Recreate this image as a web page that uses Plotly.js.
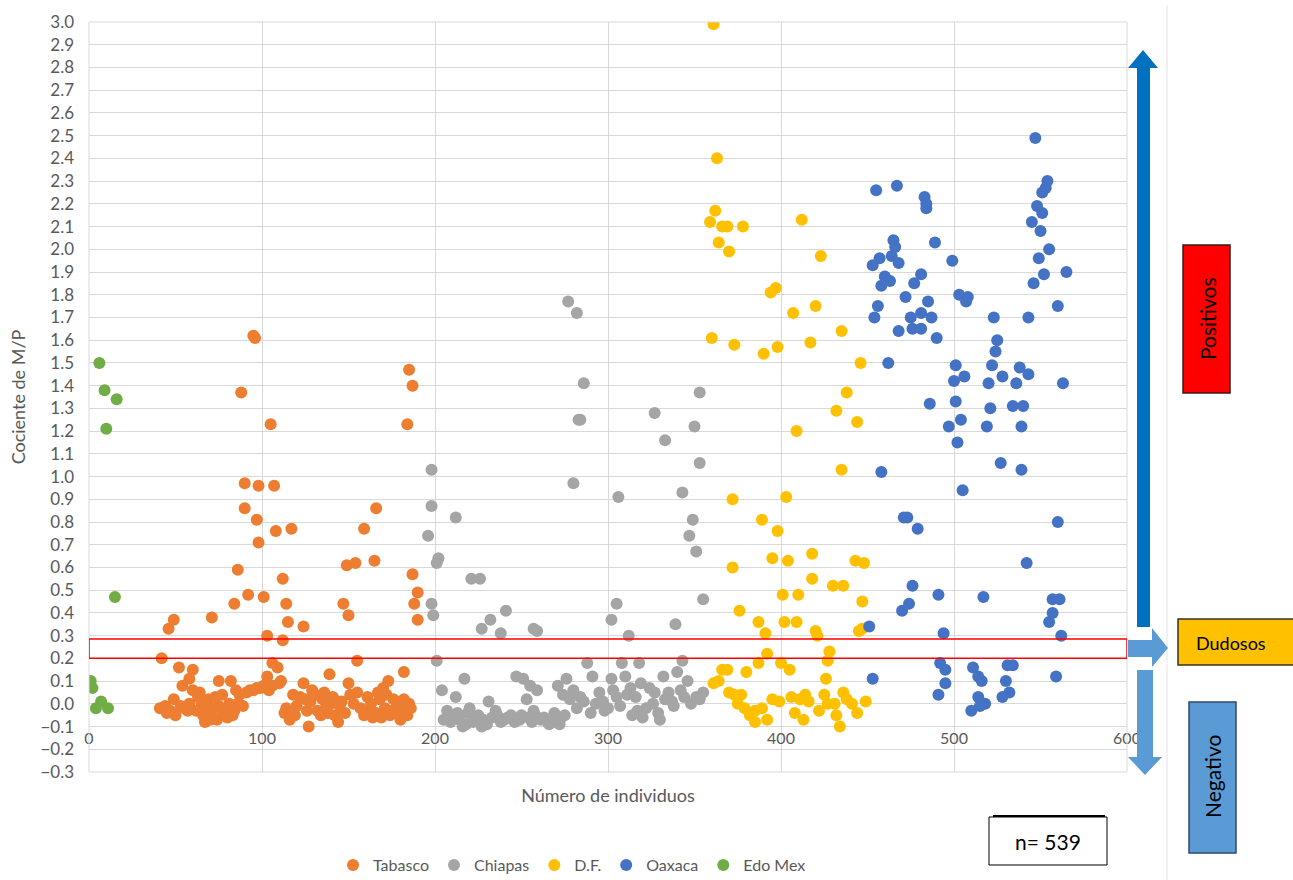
<!DOCTYPE html>
<html>
<head>
<meta charset="utf-8">
<script src="https://cdn.plot.ly/plotly-3.0.1.min.js"></script>
<style>html,body{margin:0;padding:0;background:#fff;}#chart{width:1293px;height:880px;}</style>
</head>
<body>
<div id="chart"></div>
<script>
// ---------- DATA ----------
const seriesNames = ["Tabasco", "Chiapas", "D.F.", "Oaxaca", "Edo Mex"];

const tabascoX = [95,96,88,105,185,187,184,90,98,107,90,97,108,117,98,166,159,149,154,165,86,112,187,190,188,190,92,101,114,84,147,150,115,124,71,49,46,103,112,42,155,52,60,106,109,182,139,75,82,103,111,124,150,173,
41,45,44,47,49,53,54,57,58,60,64,65,67,68,70,72,75,76,80,80,83,86,87,91,95,99,106,113,116,118,120,125,127,129,132,135,138,140,144,145,153,155,162,164,167,170,175,178,180,183,
50,55,58,62,63,66,69,71,73,74,77,78,81,84,85,89,93,97,101,104,110,114,119,122,126,128,131,134,136,137,141,142,146,148,151,157,159,161,163,166,168,169,171,172,174,176,177,179,181,182,184,185,186];
const tabascoY = [1.62,1.61,1.37,1.23,1.47,1.40,1.23,0.97,0.96,0.96,0.86,0.81,0.76,0.77,0.71,0.86,0.77,0.61,0.62,0.63,0.59,0.55,0.57,0.49,0.44,0.37,0.48,0.47,0.44,0.44,0.44,0.39,0.36,0.34,0.38,0.37,0.33,0.30,0.28,0.20,0.19,0.16,0.15,0.18,0.16,0.14,0.13,0.10,0.10,0.12,0.10,0.09,0.09,0.10,
-0.02,-0.04,-0.01,-0.03,0.02,-0.01,0.08,-0.03,0.11,0.06,0.05,0.00,-0.08,-0.04,-0.07,-0.06,-0.01,-0.02,-0.03,-0.06,-0.05,0.00,0.04,0.05,0.06,0.07,0.08,-0.04,-0.07,0.04,-0.01,0.02,-0.10,0.06,-0.03,0.02,-0.04,0.00,-0.08,-0.01,0.00,0.05,-0.03,-0.06,0.05,0.07,-0.03,0.01,-0.07,-0.02,
-0.05,-0.02,0.00,-0.03,0.03,-0.05,0.02,-0.02,0.03,-0.07,0.04,-0.04,0.00,-0.03,0.06,-0.01,0.06,0.07,0.08,0.06,0.09,-0.02,-0.05,0.03,-0.03,0.01,0.04,-0.05,0.05,0.00,0.03,-0.05,0.01,-0.04,0.04,-0.02,-0.05,0.03,0.00,-0.04,0.02,-0.06,-0.02,0.04,-0.05,0.02,-0.04,0.00,-0.03,0.02,-0.05,0.00,-0.02];

const chiapasX = [198,198,196,202,201,198,199,277,282,286,353,283,284,327,350,333,353,280,306,343,212,349,347,351,221,226,355,305,241,302,232,227,238,339,257,259,312,201,288,308,318,343,
204,217,212,207,205,209,213,216,220,223,227,231,235,238,242,247,251,255,259,253,249,257,261,265,269,273,271,276,274,280,284,291,295,293,298,302,305,310,313,316,317,320,324,326,329,332,335,337,340,346,344,351,355,
210,214,218,219,222,225,228,230,233,236,240,244,246,250,254,256,258,263,266,268,270,272,275,278,282,286,290,297,300,303,307,311,314,319,322,327,330,333,338,342,348,353];
const chiapasY = [1.03,0.87,0.74,0.64,0.62,0.44,0.39,1.77,1.72,1.41,1.37,1.25,1.25,1.28,1.22,1.16,1.06,0.97,0.91,0.93,0.82,0.81,0.74,0.67,0.55,0.55,0.46,0.44,0.41,0.37,0.37,0.33,0.31,0.35,0.33,0.32,0.30,0.19,0.18,0.18,0.18,0.19,
0.06,0.11,0.03,-0.03,-0.07,-0.08,-0.04,-0.10,-0.02,-0.06,-0.10,0.01,-0.03,-0.08,-0.06,0.12,0.11,0.08,0.06,0.02,-0.07,-0.03,-0.07,-0.08,-0.04,-0.06,0.08,0.11,0.04,0.06,0.03,0.12,0.05,0.00,-0.03,0.11,0.03,0.12,0.07,0.03,-0.03,-0.06,0.07,0.00,-0.04,0.12,0.05,0.01,0.14,0.10,0.03,0.03,0.05,
-0.05,-0.07,-0.09,-0.04,-0.08,-0.05,-0.07,-0.09,-0.06,-0.05,-0.07,-0.05,-0.08,-0.05,-0.06,-0.08,-0.05,-0.06,-0.09,-0.08,-0.07,-0.09,-0.05,0.02,-0.02,0.01,-0.04,0.01,-0.02,0.06,-0.01,0.04,-0.05,0.09,-0.02,0.05,-0.07,0.02,-0.01,0.06,0.00,0.02];

const dfX = [361,363,362,359,366,369,378,364,370,412,423,394,397,407,420,360,373,390,398,417,435,446,438,432,444,409,435,372,403,389,398,395,404,418,443,448,372,418,430,436,401,410,447,376,387,402,409,420,421,391,445,447,428,427,392,387,380,366,369,361,400,405,426,373,377,375,379,385,389,385,392,399,406,408,414,413,416,425,427,431,432,434,436,441,444,449,370,382,395,411,422,438,364];
const dfY = [2.99,2.40,2.17,2.12,2.10,2.10,2.10,2.03,1.99,2.13,1.97,1.81,1.83,1.72,1.75,1.61,1.58,1.54,1.57,1.59,1.64,1.50,1.37,1.29,1.24,1.20,1.03,0.90,0.91,0.81,0.76,0.64,0.63,0.66,0.63,0.62,0.60,0.55,0.52,0.52,0.48,0.48,0.45,0.41,0.36,0.36,0.36,0.32,0.30,0.31,0.32,0.33,0.23,0.19,0.22,0.18,0.14,0.15,0.15,0.09,0.18,0.15,0.11,0.04,0.04,0.00,-0.02,-0.03,-0.02,-0.08,-0.07,0.01,0.03,-0.04,0.04,-0.07,0.01,0.04,0.00,0.00,-0.05,-0.10,0.05,0.00,-0.04,0.01,0.05,-0.05,0.02,0.02,-0.03,0.02,0.10];

const oaxacaX = [547,455,467,483,484,484,554,553,551,548,551,545,550,465,466,489,555,457,453,464,468,499,549,481,477,460,463,458,552,565,546,472,485,503,508,507,456,454,481,487,475,560,523,543,468,476,481,490,525,524,522,462,501,500,506,520,528,538,543,536,563,486,501,504,521,534,540,497,519,539,502,527,539,458,505,471,473,479,560,542,476,491,517,470,474,557,561,557,555,451,494,562,492,495,495,491,511,514,516,531,534,530,532,528,453,559,514,518,510,515];
const oaxacaY = [2.49,2.26,2.28,2.23,2.20,2.18,2.30,2.27,2.25,2.19,2.16,2.12,2.08,2.04,2.01,2.03,2.00,1.96,1.93,1.97,1.94,1.95,1.96,1.89,1.85,1.88,1.86,1.84,1.89,1.90,1.85,1.79,1.77,1.80,1.79,1.77,1.75,1.70,1.72,1.70,1.70,1.75,1.70,1.70,1.64,1.65,1.65,1.61,1.60,1.55,1.49,1.50,1.49,1.42,1.44,1.41,1.44,1.48,1.45,1.41,1.41,1.32,1.33,1.25,1.30,1.31,1.31,1.22,1.22,1.22,1.15,1.06,1.03,1.02,0.94,0.82,0.82,0.77,0.80,0.62,0.52,0.48,0.47,0.41,0.44,0.46,0.46,0.40,0.36,0.34,0.31,0.30,0.18,0.15,0.09,0.04,0.16,0.12,0.10,0.17,0.17,0.10,0.05,0.03,0.11,0.12,0.03,0.00,-0.03,-0.01];

const edoMexX = [1,2,4,7,11,6,9,10,16,15];
const edoMexY = [0.10,0.07,-0.02,0.01,-0.02,1.50,1.38,1.21,1.34,0.47];

const dudososBand = [0.2, 0.285];
const sampleLabel = "n= 539";
const zoneLabels = ["Positivos", "Dudosos", "Negativo"];

// ---------- STYLE ----------
const colors = ["#ED7D31", "#A5A5A5", "#FFC000", "#4472C4", "#70AD47"];
const FONT = 'Lato, "Liberation Sans", Arial, sans-serif';
const xs = [tabascoX, chiapasX, dfX, oaxacaX, edoMexX];
const ys = [tabascoY, chiapasY, dfY, oaxacaY, edoMexY];

const traces = seriesNames.map((n, i) => ({
  type: "scatter", mode: "markers", name: n,
  x: xs[i], y: ys[i],
  marker: {color: colors[i], size: 12, line: {width: 0}}
}));

// pixel helpers for decorations outside the plot area
const L = 89, T = 22, W = 1038, H = 750;
const px = v => (v - L) / W;
const py = v => (T + H - v) / H;
const path = pts => "M" + pts.map(p => px(p[0]) + "," + py(p[1])).join(" L") + " Z";

const shapes = [
  {type: "rect", xref: "paper", yref: "paper", x0: 0, x1: 1, y0: 0, y1: 1, line: {color: "#D9D9D9", width: 1}},
  {type: "rect", xref: "x", yref: "y", x0: 0, x1: 600, y0: dudososBand[0], y1: dudososBand[1], line: {color: "#FF0000", width: 1.5}},
  {type: "line", xref: "paper", yref: "paper", x0: px(1167), x1: px(1167), y0: py(5), y1: py(880), line: {color: "#E3E3E3", width: 1}},
  {type: "path", xref: "paper", yref: "paper", path: path([[1137,627],[1137,68],[1128,68],[1143,50],[1158,68],[1150,68],[1150,627]]), fillcolor: "#0070C0", line: {width: 0}},
  {type: "path", xref: "paper", yref: "paper", path: path([[1128,640],[1152,640],[1152,628],[1168,648],[1152,667],[1152,657],[1128,657]]), fillcolor: "#5B9BD5", line: {width: 0}},
  {type: "path", xref: "paper", yref: "paper", path: path([[1137,670],[1153,670],[1153,757],[1162,757],[1145,775],[1128,757],[1137,757]]), fillcolor: "#5B9BD5", line: {width: 0}},
  {type: "rect", xref: "paper", yref: "paper", x0: px(1183), x1: px(1230), y0: py(393), y1: py(245), fillcolor: "#FF0000", line: {color: "#3a1a1a", width: 1.5}},
  {type: "rect", xref: "paper", yref: "paper", x0: px(1178), x1: px(1300), y0: py(665), y1: py(619), fillcolor: "#FFC000", line: {color: "#3a3020", width: 1.5}},
  {type: "rect", xref: "paper", yref: "paper", x0: px(1189), x1: px(1236), y0: py(853), y1: py(702), fillcolor: "#5B9BD5", line: {color: "#2F4A6F", width: 1.5}},
  {type: "rect", xref: "paper", yref: "paper", x0: px(989), x1: px(1107), y0: py(865), y1: py(817), fillcolor: "#FFFFFF", line: {color: "#000000", width: 1}},
  {type: "line", xref: "paper", yref: "paper", x0: px(993), x1: px(1105), y0: py(816), y1: py(816), line: {color: "#000000", width: 2}}
];

const ann = (x, y, text, size, angle) => ({
  xref: "paper", yref: "paper", x: px(x), y: py(y), text: text, showarrow: false,
  xanchor: "center", yanchor: "middle", textangle: angle || 0,
  font: {family: FONT, size: size, color: "#000"}
});
const annotations = [
  ann(1207, 319, zoneLabels[0], 21, -90),
  ann(1231, 643, zoneLabels[1], 18, 0),
  ann(1212, 777, zoneLabels[2], 21, -90),
  ann(1048, 841, sampleLabel, 21, 0)
];

const layout = {
  width: 1293, height: 880,
  margin: {l: L, r: 1293 - L - W, t: T, b: 880 - T - H, autoexpand: false},
  paper_bgcolor: "#FFFFFF", plot_bgcolor: "#FFFFFF",
  font: {family: FONT, color: "#595959"},
  showlegend: true,
  legend: {orientation: "h", x: px(572), xanchor: "center", y: py(865), yanchor: "middle", font: {size: 16, color: "#595959"}, itemwidth: 30, traceorder: "normal"},
  xaxis: {
    range: [0, 600], tick0: 0, dtick: 100, showgrid: true, gridcolor: "#D9D9D9", gridwidth: 1,
    zeroline: false, showline: false, ticks: "", tickfont: {size: 16, color: "#595959"}, ticklabelstandoff: 0,
    anchor: "free", position: 0.2 / 3.3, automargin: false,
    title: {text: "Número de individuos", font: {size: 18, color: "#595959"}, standoff: 43}
  },
  yaxis: {
    range: [-0.3, 3.0], tick0: 0, dtick: 0.1, tickformat: ".1f", showgrid: true, gridcolor: "#D9D9D9", gridwidth: 1,
    zeroline: false, showline: false, ticks: "", tickfont: {size: 17, color: "#595959"}, ticklabelstandoff: 14,
    domain: [0, 1], automargin: false,
    title: {text: "Cociente de M/P", font: {size: 18, color: "#595959"}, standoff: 10}
  },
  shapes: shapes,
  annotations: annotations
};

Plotly.newPlot("chart", traces, layout, {displayModeBar: false, staticPlot: true});
</script>
</body>
</html>
